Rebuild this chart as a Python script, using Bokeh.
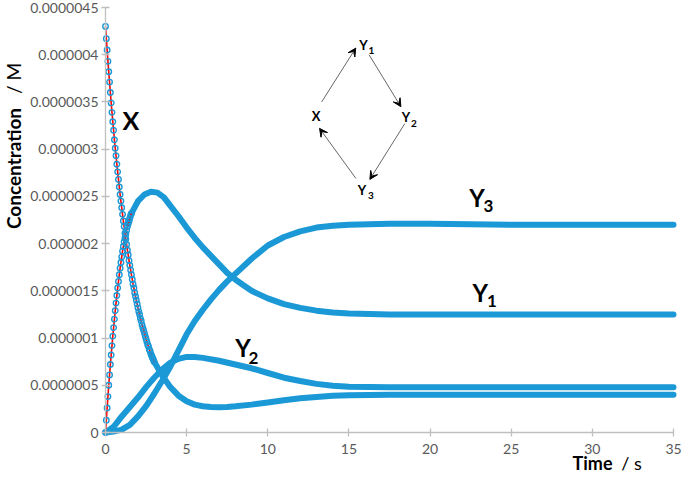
from math import pi
from bokeh.plotting import figure
from bokeh.models import FixedTicker, Label, Arrow, VeeHead, Range1d
from bokeh.embed import file_html
from bokeh.resources import INLINE

# ---------------- data (concentrations in micro-molar, labelled in M) ----------------
x_ticks = [0, 5, 10, 15, 20, 25, 30, 35]
y_ticks = [0, 0.5, 1, 1.5, 2, 2.5, 3, 3.5, 4, 4.5]
y_tick_labels = ["0", "0.0000005", "0.000001", "0.0000015", "0.000002",
                 "0.0000025", "0.000003", "0.0000035", "0.000004", "0.0000045"]

# early, sparsely sampled points (drawn as open circles joined by a red line)
x_circ_t = [0.00, 0.05, 0.10, 0.15, 0.20, 0.25, 0.30, 0.35, 0.40, 0.45,
            0.50, 0.55, 0.60, 0.65, 0.70, 0.75, 0.80, 0.85, 0.90, 0.95,
            1.00, 1.05, 1.10, 1.15, 1.20, 1.25, 1.30, 1.35, 1.40, 1.45,
            1.50, 1.55, 1.60, 1.65, 1.70, 1.75, 1.80, 1.85, 1.90, 1.95,
            2.00, 2.05, 2.10, 2.15, 2.20, 2.25, 2.30, 2.35, 2.40, 2.45,
            2.50, 2.55, 2.60, 2.65, 2.70, 2.75, 2.80, 2.85, 2.90, 2.95, 3.00]
x_circ = [4.30, 4.17, 4.05, 3.93, 3.82, 3.71, 3.60, 3.49, 3.39, 3.29,
          3.20, 3.10, 3.01, 2.93, 2.84, 2.76, 2.68, 2.60, 2.52, 2.45,
          2.38, 2.31, 2.24, 2.18, 2.11, 2.05, 1.99, 1.93, 1.88, 1.82,
          1.77, 1.72, 1.67, 1.62, 1.57, 1.53, 1.48, 1.44, 1.40, 1.36,
          1.32, 1.28, 1.25, 1.21, 1.18, 1.14, 1.11, 1.08, 1.05, 1.02,
          0.99, 0.96, 0.93, 0.91, 0.88, 0.86, 0.83, 0.81, 0.79, 0.77, 0.75]

y1_circ_t = [0.00, 0.05, 0.10, 0.15, 0.20, 0.25, 0.30, 0.35, 0.40, 0.45,
             0.50, 0.55, 0.60, 0.65, 0.70, 0.75, 0.80, 0.85, 0.90, 0.95,
             1.00, 1.05, 1.10, 1.15, 1.20, 1.25, 1.30, 1.35, 1.40, 1.45,
             1.50, 1.55, 1.60]
y1_circ = [0.00, 0.13, 0.26, 0.38, 0.50, 0.61, 0.72, 0.82, 0.92, 1.02,
           1.11, 1.20, 1.29, 1.37, 1.45, 1.53, 1.60, 1.67, 1.74, 1.80,
           1.86, 1.92, 1.97, 2.02, 2.06, 2.10, 2.14, 2.18, 2.21, 2.24,
           2.27, 2.30, 2.32]

# densely sampled parts (appear as thick bands)
x_t = [2.8, 3.0, 3.5, 4, 4.5, 5, 5.5, 6, 6.5, 7, 7.5, 8, 9, 10, 11, 12, 13, 14, 15,
       17.5, 20, 25, 30, 35]
x_v = [0.83, 0.75, 0.60, 0.48, 0.39, 0.33, 0.295, 0.278, 0.27, 0.268, 0.27, 0.277,
       0.295, 0.318, 0.342, 0.362, 0.377, 0.388, 0.394, 0.399, 0.40, 0.40, 0.40, 0.40]

y1_t = [1.4, 1.6, 2.0, 2.4, 2.8, 3.2, 3.6, 4.0, 4.5, 5, 5.5, 6, 6.5, 7, 7.5,
        8, 8.5, 9, 9.5, 10, 11, 12, 13, 14, 15, 17.5, 20, 25, 30, 35]
y1_v = [2.21, 2.32, 2.45, 2.52, 2.55, 2.54, 2.49, 2.40, 2.29, 2.17, 2.06, 1.96, 1.87,
        1.78, 1.69, 1.62, 1.56, 1.50, 1.46, 1.42, 1.36, 1.32, 1.29, 1.27, 1.26,
        1.25, 1.25, 1.25, 1.25, 1.25]

y2_t = [0, 0.5, 1, 1.5, 2, 2.5, 3, 3.5, 4, 4.5, 5, 5.5, 6, 7, 8, 9, 10, 11, 12, 13,
        14, 15, 17.5, 20, 25, 30, 35]
y2_v = [0, 0.06, 0.17, 0.27, 0.37, 0.48, 0.58, 0.67, 0.74, 0.78, 0.80, 0.80, 0.79,
        0.76, 0.72, 0.68, 0.63, 0.58, 0.545, 0.515, 0.495, 0.485, 0.48, 0.478,
        0.478, 0.478, 0.478]

y3_t = [0, 0.5, 1, 1.5, 2, 2.5, 3, 3.5, 4, 4.5, 5, 5.5, 6, 6.5, 7, 7.5, 8, 9, 10,
        11, 12, 13, 14, 15, 17.5, 20, 25, 30, 35]
y3_v = [0, 0.01, 0.03, 0.08, 0.17, 0.28, 0.41, 0.55, 0.70, 0.87, 1.04, 1.18, 1.30,
        1.41, 1.51, 1.60, 1.68, 1.84, 1.98, 2.07, 2.13, 2.17, 2.19, 2.20, 2.21,
        2.21, 2.20, 2.20, 2.20]

# ---------------- layout ----------------
W, H = 683, 476
AX_L, AX_R, AX_T, AX_B = 105, 673, 7, 432   # canvas px of axis extents
XS = (AX_R - AX_L) / 35.0
YS = (AX_B - AX_T) / 4.5


def dx(px):  # canvas px -> data x
    return (px - AX_L) / XS


def dy(py):  # canvas px -> data y
    return (AX_B - py) / YS


BLUE = "#1b98d6"
FONT = "Lato"

p = figure(width=W, height=H, output_backend="svg", toolbar_location=None,
           x_range=Range1d(dx(0), dx(W)), y_range=Range1d(dy(H), dy(0)),
           min_border_left=0, min_border_right=0, min_border_top=0,
           min_border_bottom=0)
p.outline_line_color = None
p.xgrid.visible = False
p.ygrid.visible = False
p.background_fill_color = "white"
p.border_fill_color = "white"

for ax in (p.xaxis[0], p.yaxis[0]):
    ax.fixed_location = 0
    ax.axis_line_color = "#bfbfbf"
    ax.axis_line_width = 1.3
    ax.major_tick_line_color = "#bfbfbf"
    ax.major_tick_line_width = 1.3
    ax.major_tick_in = 4
    ax.major_tick_out = 4
    ax.minor_tick_line_color = None
    ax.major_label_text_font = FONT
    ax.major_label_text_font_size = "14px"
    ax.major_label_text_color = "#595959"
p.xaxis.bounds = (0, 35)
p.yaxis.bounds = (0, 4.5)
p.xaxis.ticker = FixedTicker(ticks=x_ticks)
p.yaxis.ticker = FixedTicker(ticks=y_ticks)
p.yaxis.major_label_overrides = {t: s for t, s in zip(y_ticks, y_tick_labels)}
p.yaxis.major_label_standoff = 3
p.xaxis.major_label_standoff = 7

# thick (dense) bands
band = dict(line_color=BLUE, line_width=6, line_cap="round", line_join="round")
p.line(y3_t, y3_v, **band)
p.line(y2_t, y2_v, **band)
p.line(x_t, x_v, **band)
p.line(y1_t, y1_v, **band)

# sparse early parts: red line + open circles
p.line(x_circ_t, x_circ, line_color="red", line_width=1.6)
p.line(y1_circ_t, y1_circ, line_color="red", line_width=1.6)
p.scatter(x_circ_t, x_circ, marker="circle", size=5.5, line_color=BLUE,
          line_width=1.4, fill_color=None)
p.scatter(y1_circ_t, y1_circ, marker="circle", size=5.5, line_color=BLUE,
          line_width=1.4, fill_color=None)


def lab(x, y, text, size, bold=True, angle=0.0, align="center", color="black"):
    p.add_layout(Label(x=x, y=y, text=text, text_font=FONT, text_font_size=size,
                       text_font_style="bold" if bold else "normal",
                       text_align=align, text_baseline="middle", angle=angle,
                       text_color=color))


# axis titles
lab(dx(13), dy(168), "Concentration", "19px", angle=pi / 2)
lab(dx(13), dy(78), "/ M", "19px", bold=False, angle=pi / 2)
lab(dx(592), dy(462), "Time", "18px")
lab(dx(631), dy(462), "/ s", "18px", bold=False)

# curve labels
lab(1.56, 3.31, "X", "25px")
lab(23.09, 1.48, "Y", "24px")
lab(23.81, 1.39, "1", "17px")
lab(22.9, 2.49, "Y", "24px")
lab(23.6, 2.40, "3", "17px")
lab(8.47, 0.90, "Y", "24px")
lab(9.12, 0.79, "2", "17px")

# reaction scheme
lab(15.90, 4.10, "Y", "13px")
lab(16.39, 4.04, "1", "10px")
lab(12.98, 3.35, "X", "13px")
lab(18.52, 3.34, "Y", "13px")
lab(19.0, 3.27, "2", "10px")
lab(15.81, 2.57, "Y", "13px")
lab(16.35, 2.51, "3", "10px")

arrows = [((13.32, 3.50), (15.42, 4.07)),
          ((16.24, 4.00), (18.20, 3.45)),
          ((18.44, 3.27), (16.29, 2.68)),
          ((15.43, 2.69), (13.19, 3.22))]
for (xs, ys), (xe, ye) in arrows:
    p.add_layout(Arrow(end=VeeHead(size=8, fill_color="black", line_color="black",
                                   line_width=1),
                       x_start=xs, y_start=ys, x_end=xe, y_end=ye,
                       line_color="#666666", line_width=1))

open("out.html", "w").write(file_html(p, INLINE))
